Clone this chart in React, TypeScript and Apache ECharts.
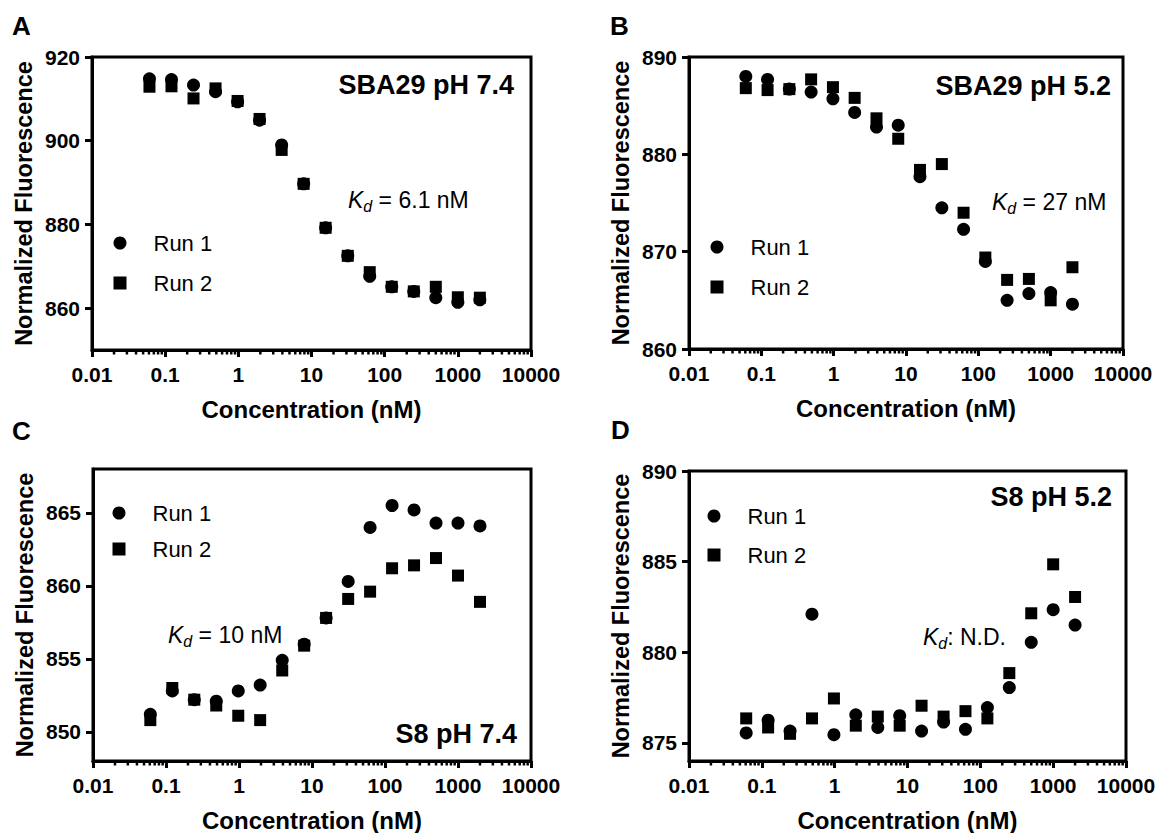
import React, { useEffect, useRef } from "react";
import * as echarts from "echarts";

// Concentrations (nM), 2-fold dilution series
const concentrations = [0.061, 0.122, 0.244, 0.488, 0.977, 1.95, 3.91, 7.81, 15.6, 31.3, 62.5, 125, 250, 500, 1000, 2000];

// Panel A: SBA29 pH 7.4
const aRun1 = [914.8, 914.6, 913.3, 911.7, 909.3, 904.9, 899.0, 889.7, 879.2, 872.5, 867.6, 865.1, 864.0, 862.5, 861.4, 862.0];
const aRun2 = [912.9, 913.0, 910.1, 912.5, 909.5, 905.2, 897.8, 889.7, 879.2, 872.5, 868.6, 865.1, 864.0, 865.1, 862.6, 862.5];
// Panel B: SBA29 pH 5.2
const bRun1 = [888.0, 887.7, 886.7, 886.4, 885.7, 884.3, 882.8, 883.0, 877.7, 874.5, 872.3, 869.0, 865.0, 865.7, 865.8, 864.6];
const bRun2 = [886.8, 886.6, 886.7, 887.7, 886.9, 885.8, 883.7, 881.6, 878.4, 879.0, 874.0, 869.4, 867.1, 867.2, 865.0, 868.4];
// Panel C: S8 pH 7.4
const cRun1 = [851.2, 852.8, 852.2, 852.1, 852.8, 853.2, 854.9, 856.0, 857.8, 860.3, 864.0, 865.5, 865.2, 864.3, 864.3, 864.1];
const cRun2 = [850.8, 853.0, 852.2, 851.8, 851.1, 850.8, 854.2, 855.9, 857.8, 859.1, 859.6, 861.2, 861.4, 861.9, 860.7, 858.9];
// Panel D: S8 pH 5.2
const dRun1 = [875.55, 876.25, 875.65, 882.1, 875.45, 876.55, 875.85, 876.5, 875.65, 876.15, 875.75, 876.95, 878.05, 880.55, 882.35, 881.5];
const dRun2 = [876.35, 875.85, 875.5, 876.35, 877.45, 875.95, 876.45, 875.95, 877.05, 876.45, 876.75, 876.35, 878.85, 882.15, 884.85, 883.05];

// Tick labels
const aTicks = [860, 880, 900, 920];
const bTicks = [860, 870, 880, 890];
const cTicks = [850, 855, 860, 865];
const dTicks = [875, 880, 885, 890];
const decades = [0.01, 0.1, 1, 10, 100, 1000];
const minorMultipliers = [2, 3, 4, 5, 6, 7, 8, 9];
const xRange = [0.01, 10000];

const seriesNames = ["Run 1", "Run 2"];
const panelLetters = ["A", "B", "C", "D"];
const panelTitles = ["SBA29 pH 7.4", "SBA29 pH 5.2", "S8 pH 7.4", "S8 pH 5.2"];
const kdTexts = [" = 6.1 nM", " = 27 nM", " = 10 nM", ": N.D."];

const FONT = "'Liberation Sans', Arial, Helvetica, sans-serif";

const minorTicks: number[] = [];
decades.forEach((d) => minorMultipliers.forEach((m) => minorTicks.push(Number((d * m).toPrecision(4)))));

const panels = [
  { grid: { left: 92, top: 57, width: 439, height: 293 }, yMin: 850, yMax: 920, ticks: aTicks, r1: aRun1, r2: aRun2,
    legend: { cx: 120, cy: 243, gap: 40 }, letter: [24, 27], title: [514, 85], kd: [348, 200] },
  { grid: { left: 689, top: 57, width: 434, height: 292 }, yMin: 860, yMax: 890, ticks: bTicks, r1: bRun1, r2: bRun2,
    legend: { cx: 717, cy: 247, gap: 40 }, letter: [622, 27], title: [1111, 86], kd: [992, 202] },
  { grid: { left: 93, top: 469, width: 438, height: 293 }, yMin: 848, yMax: 868, ticks: cTicks, r1: cRun1, r2: cRun2,
    legend: { cx: 119, cy: 513, gap: 36 }, letter: [24, 432], title: [517, 734], kd: [168, 635] },
  { grid: { left: 689, top: 471, width: 437, height: 290 }, yMin: 874, yMax: 890, ticks: dTicks, r1: dRun1, r2: dRun2,
    legend: { cx: 714, cy: 516, gap: 39 }, letter: [623, 431], title: [1112, 497], kd: [923, 637] },
];

function fmtLog(v: number) {
  return String(Number(v.toPrecision(6)));
}

function buildOption(i: number) {
  const p = panels[i];
  return {
    animation: false,
    textStyle: { fontFamily: FONT },
    grid: [{ ...p.grid, show: true, borderColor: "#000", borderWidth: 3 }],
    xAxis: [{
      type: "log",
      logBase: 10,
      min: xRange[0],
      max: xRange[1],
      name: "Concentration (nM)",
      nameLocation: "middle",
      nameGap: 47,
      nameTextStyle: { fontFamily: FONT, fontSize: 24, fontWeight: "bold", color: "#000" },
      axisLine: { show: true, lineStyle: { color: "#000", width: 3 } },
      axisTick: { show: true, length: 7, lineStyle: { color: "#000", width: 3 } },
      axisLabel: { margin: 14, fontFamily: FONT, fontSize: 21, fontWeight: "bold", color: "#000", formatter: (v: number) => fmtLog(v) },
      splitLine: { show: false },
    }],
    yAxis: [{
      type: "value",
      min: p.yMin,
      max: p.yMax,
      name: "Normalized Fluorescence",
      nameLocation: "middle",
      nameGap: 56,
      nameTextStyle: { fontFamily: FONT, fontSize: 23.5, fontWeight: "bold", color: "#000" },
      axisLine: { show: true, lineStyle: { color: "#000", width: 3 } },
      axisTick: { show: true, length: 7, lineStyle: { color: "#000", width: 3 }, customValues: p.ticks },
      axisLabel: { margin: 12, fontFamily: FONT, fontSize: 21, fontWeight: "bold", color: "#000", customValues: p.ticks },
      splitLine: { show: false },
    }],
    legend: [{
      orient: "vertical",
      left: p.legend.cx - 6.5,
      top: p.legend.cy - 13,
      padding: 0,
      itemWidth: 13,
      itemHeight: 13,
      itemGap: p.legend.gap - 26,
      selectedMode: false,
      data: seriesNames,
      textStyle: { fontFamily: FONT, fontSize: 22, color: "#000", lineHeight: 26, padding: [0, 0, 0, 22] },
    }],
    series: [
      {
        name: seriesNames[0], type: "scatter", symbol: "circle", symbolSize: 13,
        itemStyle: { color: "#000", opacity: 1 }, data: concentrations.map((c, k) => [c, p.r1[k]]),
      },
      {
        name: seriesNames[1], type: "scatter", symbol: "rect", symbolSize: 12,
        itemStyle: { color: "#000", opacity: 1 }, data: concentrations.map((c, k) => [c, p.r2[k]]),
      },
      {
        type: "custom", silent: true, clip: false, z: 10,
        data: minorTicks.map((m) => [m, p.yMin]),
        renderItem: (params: any, api: any) => {
          const pt = api.coord([api.value(0), api.value(1)]);
          return { type: "line", shape: { x1: pt[0], y1: pt[1], x2: pt[0], y2: pt[1] + 4.5 }, style: { stroke: "#000", lineWidth: 2.5 } };
        },
      },
    ],
    graphic: [
      {
        type: "text", left: p.letter[0] - 12, top: p.letter[1] - 14,
        style: { text: panelLetters[i], font: `bold 26px ${FONT}`, fill: "#000" },
      },
      {
        type: "text", x: p.title[0], y: p.title[1],
        style: { text: panelTitles[i], font: `bold 27px ${FONT}`, fill: "#000", align: "right", verticalAlign: "middle" },
      },
      {
        type: "text", x: p.kd[0], y: p.kd[1],
        style: {
          text: `{k|K}{d|d}{t|${kdTexts[i]}}`,
          align: "left",
          verticalAlign: "middle",
          rich: {
            k: { fontFamily: FONT, fontSize: 23, fontStyle: "italic", color: "#000", lineHeight: 28 },
            d: { fontFamily: FONT, fontSize: 16, fontStyle: "italic", color: "#000", lineHeight: 28, padding: [12, 0, 0, 0] },
            t: { fontFamily: FONT, fontSize: 23, color: "#000", lineHeight: 28 },
          },
        },
      },
    ],
  };
}

function Panel({ index }: { index: number }) {
  const ref = useRef<HTMLDivElement>(null);
  useEffect(() => {
    if (!ref.current) return;
    const chart = echarts.init(ref.current, null, { renderer: "svg" });
    chart.setOption(buildOption(index));
    return () => chart.dispose();
  }, [index]);
  return <div ref={ref} style={{ position: "absolute", left: 0, top: 0, width: 1163, height: 833 }} />;
}

export default function App() {
  return (
    <div style={{ position: "absolute", left: 0, top: 0, width: 1163, height: 833, background: "#fff" }}>
      {panels.map((_, i) => (
        <Panel key={i} index={i} />
      ))}
    </div>
  );
}
